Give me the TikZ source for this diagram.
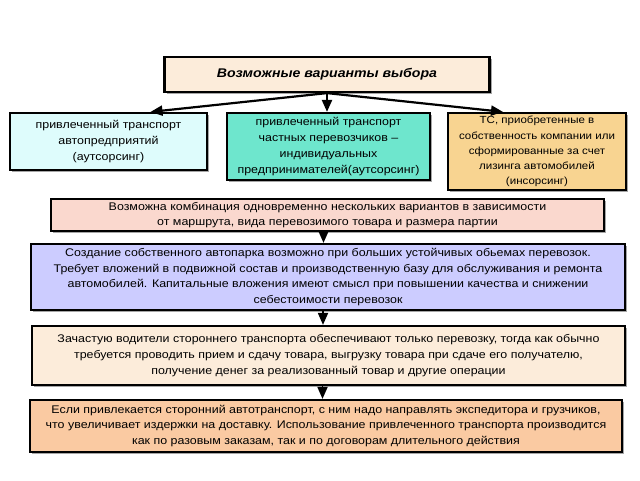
\documentclass[tikz,border=0pt]{standalone}
\usepackage{fontspec}
\setmainfont{Liberation Sans}
\newfontfamily\widesans[FakeStretch=1.12,Ligatures=TeX]{Liberation Sans}
\usepackage{tikz}
\usepackage{xcolor}
\usetikzlibrary{positioning,arrows.meta,shadows}

\definecolor{peach}{RGB}{252,236,218}
\definecolor{icecyan}{RGB}{222,252,252}
\definecolor{aqua}{RGB}{110,230,205}
\definecolor{sand}{RGB}{248,212,145}
\definecolor{rose}{RGB}{250,216,206}
\definecolor{lilac}{RGB}{204,204,255}
\definecolor{apricot}{RGB}{250,202,162}

\begin{document}
\begin{tikzpicture}[x=1pt, y=-1pt,
    box/.style={draw, line width=2.2pt, align=center, inner sep=1pt,
        font=\widesans\fontsize{11.1}{15.8}\selectfont,
        drop shadow={shadow xshift=2pt, shadow yshift=-2pt, fill=black!35, opacity=1}},
    link/.style={line width=2.2pt, -{Triangle[length=12pt,width=10pt]}}]
            \useasboundingbox (0,0) rectangle (640,480);

            \node[box, fill=peach, minimum width=325, minimum height=35,
                font=\widesans\fontsize{12.6}{15}\selectfont\bfseries\itshape] (choice) at (327,74.5)
                {Возможные варианты выбора};

            \node[box, fill=icecyan, minimum width=197, minimum height=57] (outfirm) at (108.5,141.5)
                {привлеченный транспорт\\автопредприятий\\(аутсорсинг)};
            \node[box, fill=aqua, minimum width=203, minimum height=67] (outprivate) at (328.5,146.5)
                {привлеченный транспорт\\частных перевозчиков –\\индивидуальных\\предпринимателей(аутсорсинг)};
            \node[box, fill=sand, minimum width=178, minimum height=77,
                font=\widesans\fontsize{10.3}{15.2}\selectfont] (insource) at (537,151.5)
                {ТС, приобретенные в\\собственность компании или\\сформированные за счет\\лизинга автомобилей\\(инсорсинг)};

            \draw[link] (choice.south) -- ([xshift=42]outfirm.north);
            \draw[link] (choice.south) -- (outprivate.north -| choice.south);
            \draw[link] (choice.south) -- ([xshift=-34]insource.north);

            \node[box, fill=rose, minimum width=553, minimum height=32] (combo) at (327.5,215)
                {Возможна комбинация одновременно нескольких вариантов в зависимости\\от маршрута, вида перевозимого товара и размера партии};
            \node[box, fill=lilac, minimum width=594, minimum height=66] (ownfleet) at (328,277)
                {Создание собственного автопарка возможно при больших устойчивых обьемах перевозок.\\Требует вложений в подвижной состав и производственную базу для обслуживания и ремонта\\автомобилей. Капитальные вложения имеют смысл при повышении качества и снижении\\себестоимости перевозок};
            \node[box, fill=peach, minimum width=593, minimum height=59] (drivers) at (328.5,355.5)
                {Зачастую водители стороннего транспорта обеспечивают только перевозку, тогда как обычно\\требуется проводить прием и сдачу товара, выгрузку товара при сдаче его получателю,\\получение денег за реализованный товар и другие операции};
            \node[box, fill=apricot, minimum width=592, minimum height=52] (hired) at (326,426)
                {Если привлекается сторонний автотранспорт, с ним надо направлять экспедитора и грузчиков,\\что увеличивает издержки на доставку.  Использование привлеченного транспорта производится\\как по разовым заказам, так и по договорам длительного действия};

            \draw[link, line width=1.8pt] ([xshift=-4]combo.south) -- ([xshift=-4]combo.south |- ownfleet.north);
            \draw[link, line width=1.8pt] ([xshift=-5]ownfleet.south) -- ([xshift=-5]ownfleet.south |- drivers.north);
            \draw[link, line width=1.8pt] ([xshift=-6]drivers.south) -- ([xshift=-6]drivers.south |- hired.north);
        \end{tikzpicture}
\end{document}
